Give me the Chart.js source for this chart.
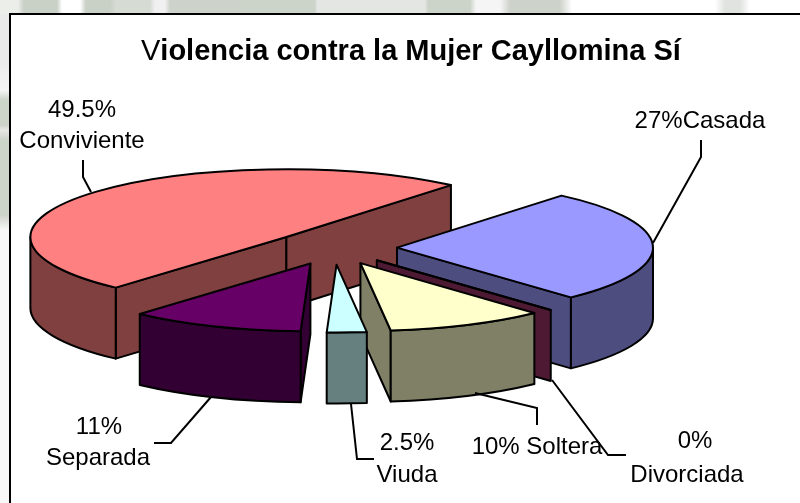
<!DOCTYPE html>
<html>
<head>
<meta charset="utf-8">
<script src="https://cdn.jsdelivr.net/npm/chart.js@4"></script>
<style>
html, body { margin: 0; padding: 0; background: #fff; overflow: hidden; }
#bg { position: absolute; left: 0; top: 0; width: 800px; height: 503px;
  background:
    linear-gradient(to right, #eceeea 18px, #c9d0c6 24px, #c9d0c6 57px, #fff 62px, #fff 80px, #c9d0c6 86px, #c9d0c6 110px, #d6dbd4 116px, #d6dbd4 150px, #f0f0f0 155px, #f0f0f0 165px, #cdd3ca 170px, #cdd3ca 240px, #ccd3c9 245px, #ccd3c9 315px, #e3e6e2 317px, #e3e6e2 425px, #ccd3c9 428px, #ccd3c9 470px, #f5f5f5 476px, #f5f5f5 500px, #cdd3ca 510px, #cdd3ca 560px, #fff 572px, #fff 715px, #e0e3df 725px, #e0e3df 740px, #fff 750px) 0 0 / 800px 14px no-repeat,
    linear-gradient(to bottom, #eaeaea 60px, #f5f5f5 90px, #ccd3c9 100px, #ccd3c9 125px, #e6e8e4 130px, #ccd3c9 140px, #ccd3c9 215px, #f8f8f8 230px) 0 0 / 10px 503px no-repeat;
}
canvas { position: absolute; left: 0; top: 0; }
</style>
</head>
<body>
<div id="bg"></div>
<canvas id="pie" width="800" height="503"></canvas>
<script>
const categories = ['Casada', 'Divorciada', 'Soltera', 'Viuda', 'Separada', 'Conviviente']
const percents = [27, 0, 10, 2.5, 11, 49.5]
const topColors = ['#9999ff', '#993366', '#ffffcc', '#ccffff', '#660066', '#ff8080']
const wallColors = ['#4d4d80', '#4d1933', '#808066', '#668080', '#330033', '#804040']

const FONT = '"Liberation Sans", Arial, sans-serif'
const SQUASH = 0.265  // flattening of the pie
const DEPTH = 71      // height of the walls
const EXPLODE = 63    // how far every slice is pulled out

// label text, one entry per line: [text, center x, baseline y]
const labels = [
    ['49.5%', 82, 117], ['Conviviente', 82, 148],
    ['27%Casada', 700, 128],
    ['11%', 99, 434], ['Separada', 98, 465],
    ['2.5%', 407, 450], ['Viuda', 407, 482],
    ['10% Soltera', 537, 454],
    ['0%', 695, 448], ['Divorciada', 687, 482],
]
const leaders = [
    [[83, 160], [83, 177], [91, 192]],
    [[701, 140], [701, 157], [653, 243]],
    [[154, 443], [171, 443], [211, 397]],
    [[351, 404], [357, 459], [374, 459]],
    [[475, 393], [537, 408], [537, 425]],
    [[552, 380], [608, 455], [626, 455]],
]

function drawWalls(ctx, arc, i, ax, ay) {
    const r = arc.outerRadius
    const a0 = arc.startAngle
    const a1 = arc.endAngle
    ctx.fillStyle = wallColors[i]

    function radial(a) {
        const ex = ax + r * Math.cos(a)
        const ey = ay + r * Math.sin(a) * SQUASH
        ctx.beginPath()
        ctx.moveTo(ax, ay)
        ctx.lineTo(ex, ey)
        ctx.lineTo(ex, ey + DEPTH)
        ctx.lineTo(ax, ay + DEPTH)
        ctx.closePath()
        ctx.fill()
        ctx.stroke()
    }
    // only the faces turned to the viewer
    if (Math.cos(a0) < 0) radial(a0)
    if (Math.cos(a1) > 0) radial(a1)

    // rim, only the part on the front half of the circle
    for (let k = -1; k < 3; k++) {
        const from = Math.max(a0, 2 * Math.PI * k)
        const to = Math.min(a1, 2 * Math.PI * k + Math.PI)
        if (to <= from) continue
        ctx.beginPath()
        ctx.ellipse(ax, ay, r, r * SQUASH, 0, from, to)
        ctx.ellipse(ax, ay + DEPTH, r, r * SQUASH, 0, to, from, true)
        ctx.closePath()
        ctx.fill()
        ctx.stroke()
    }
}

const pie3d = {
    id: 'pie3d',
    beforeDraw(chart) {
        const ctx = chart.ctx
        ctx.save()
        ctx.fillStyle = '#ffffff'
        ctx.fillRect(10, 14, 790, 489)
        ctx.strokeStyle = '#000000'
        ctx.lineWidth = 2
        ctx.beginPath()
        ctx.moveTo(10, 503)
        ctx.lineTo(10, 14)
        ctx.lineTo(800, 14)
        ctx.stroke()
        ctx.restore()
    },
    beforeDatasetDraw(chart, args) {
        const ctx = chart.ctx
        const arcs = args.meta.data
        const mid = (arc) => (arc.startAngle + arc.endAngle) / 2
        // back slices first
        const order = arcs.map((a, i) => i).sort((p, q) => Math.sin(mid(arcs[p])) - Math.sin(mid(arcs[q])))

        order.forEach((i) => {
            const arc = arcs[i]
            const ax = arc.x + Math.cos(mid(arc)) * EXPLODE
            const ay = arc.y + Math.sin(mid(arc)) * EXPLODE * SQUASH

            ctx.save()
            ctx.strokeStyle = '#000000'
            ctx.lineWidth = 2
            ctx.lineJoin = 'round'
            drawWalls(ctx, arc, i, ax, ay)

            // top face, the library arc in a flattened context
            ctx.save()
            ctx.translate(ax, ay)
            ctx.scale(1, SQUASH)
            ctx.translate(-arc.x, -arc.y)
            arc.draw(ctx)
            ctx.restore()

            ctx.beginPath()
            ctx.moveTo(ax, ay)
            ctx.ellipse(ax, ay, arc.outerRadius, arc.outerRadius * SQUASH, 0, arc.startAngle, arc.endAngle)
            ctx.closePath()
            ctx.stroke()
            ctx.restore()
        })
        return false
    },
    afterDraw(chart) {
        const ctx = chart.ctx
        ctx.save()
        ctx.fillStyle = '#000000'
        ctx.strokeStyle = '#000000'
        ctx.lineWidth = 2

        // title, the V is not bold in the original
        ctx.textAlign = 'left'
        ctx.textBaseline = 'alphabetic'
        ctx.font = '29px ' + FONT
        ctx.fillText('V', 141, 60)
        const w = ctx.measureText('V').width
        ctx.font = 'bold 29px ' + FONT
        ctx.fillText('iolencia contra la Mujer Cayllomina Sí', 141 + w, 60)

        ctx.font = '24px ' + FONT
        ctx.textAlign = 'center'
        labels.forEach((l) => ctx.fillText(l[0], l[1], l[2]))

        leaders.forEach((pts) => {
            ctx.beginPath()
            pts.forEach((p, i) => (i ? ctx.lineTo(p[0], p[1]) : ctx.moveTo(p[0], p[1])))
            ctx.stroke()
        })
        ctx.restore()
    },
}

new Chart(document.getElementById('pie'), {
    type: 'pie',
    data: {
        labels: categories,
        datasets: [{
            data: percents,
            backgroundColor: topColors,
            borderWidth: 0,
        }],
    },
    plugins: [pie3d],
    options: {
        responsive: false,
        animation: false,
        rotation: 40,
        radius: 256,
        layout: { padding: { left: 0, right: 132, top: 0, bottom: 7 } },
        plugins: {
            legend: { display: false },
            title: { display: false },
            tooltip: { enabled: false },
        },
    },
})
</script>
</body>
</html>
